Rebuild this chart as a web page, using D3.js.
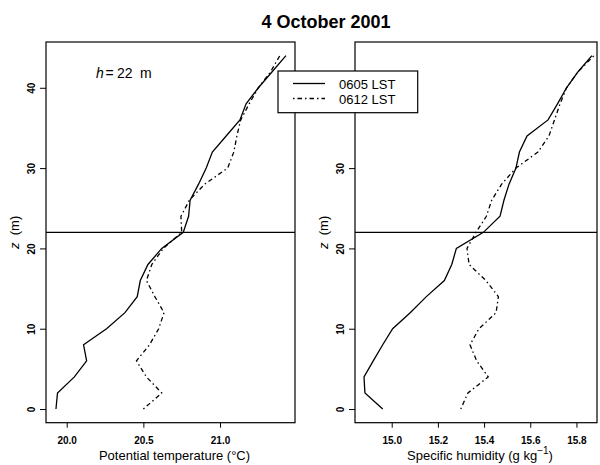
<!DOCTYPE html>
<html>
<head>
<meta charset="utf-8">
<script src="https://cdn.jsdelivr.net/npm/d3@7"></script>
<style>
  html, body { margin: 0; padding: 0; background: #fff; }
  svg { display: block; font-family: "Liberation Sans", Arial, Helvetica, sans-serif; }
</style>
</head>
<body>
<svg id="chart" width="600" height="465"></svg>
<script>
// ---- data ----
const heights = [0, 2, 4, 6, 8, 10, 12, 14, 16, 18, 20, 22, 24, 26, 28, 30, 32, 34, 36, 38, 40, 42, 44];
const theta0605 = [19.93, 19.94, 20.05, 20.13, 20.11, 20.26, 20.38, 20.46, 20.48, 20.53, 20.62, 20.76,
                   20.795, 20.805, 20.86, 20.91, 20.95, 21.04, 21.13, 21.17, 21.25, 21.34, 21.43];
const theta0612 = [20.50, 20.62, 20.52, 20.455, 20.54, 20.60, 20.635, 20.575, 20.52, 20.555, 20.63, 20.75,
                   20.745, 20.80, 20.90, 21.05, 21.09, 21.11, 21.135, 21.19, 21.25, 21.33, 21.39];
const q0605 = [14.961, 14.884, 14.88, 14.92, 14.961, 15.004, 15.08, 15.15, 15.228, 15.26, 15.28, 15.397,
               15.469, 15.486, 15.508, 15.538, 15.553, 15.586, 15.677, 15.718, 15.757, 15.807, 15.867];
const q0612 = [15.299, 15.33, 15.418, 15.368, 15.339, 15.378, 15.452, 15.462, 15.408, 15.335, 15.326, 15.365,
               15.41, 15.433, 15.476, 15.538, 15.633, 15.681, 15.705, 15.729, 15.757, 15.807, 15.876];
const boundaryHeight = 22;
const thetaTicks = [20.0, 20.5, 21.0];
const qTicks = [15.0, 15.2, 15.4, 15.6, 15.8];
const zTicks = [0, 10, 20, 30, 40];
const seriesNames = ["0605 LST", "0612 LST"];
const titleText = "4 October 2001";

// ---- layout ----
const svg = d3.select("#chart");
const plotTop = 42, plotBottom = 422.7;
const y = d3.scaleLinear().domain([-1.7, 45.7]).range([plotBottom, plotTop]);
const dashStyle = "1.5,3,4.5,3";

function panel(x0, x1, xDomain, xTicks, xFmt, s1, s2, xTitleFn) {
  const x = d3.scaleLinear().domain(xDomain).range([x0, x1]);
  const g = svg.append("g");

  // boundary height line
  g.append("line")
    .attr("x1", x0).attr("x2", x1)
    .attr("y1", y(boundaryHeight)).attr("y2", y(boundaryHeight))
    .attr("stroke", "#000").attr("stroke-width", 1.3);

  const line = d3.line().x(d => x(d[0])).y(d => y(d[1]));
  g.append("path")
    .datum(s1.map((v, i) => [v, heights[i]]))
    .attr("d", line).attr("fill", "none")
    .attr("stroke", "#000").attr("stroke-width", 1.3);
  g.append("path")
    .datum(s2.map((v, i) => [v, heights[i]]))
    .attr("d", line).attr("fill", "none")
    .attr("stroke", "#000").attr("stroke-width", 1.3)
    .attr("stroke-dasharray", dashStyle);

  // box
  g.append("rect")
    .attr("x", x0).attr("y", plotTop)
    .attr("width", x1 - x0).attr("height", plotBottom - plotTop)
    .attr("fill", "none").attr("stroke", "#000").attr("stroke-width", 1.2);

  // x axis
  const xa = g.append("g").attr("transform", `translate(0,${plotBottom})`)
    .call(d3.axisBottom(x).tickValues(xTicks).tickFormat(xFmt).tickSize(5).tickPadding(9));
  xa.select(".domain").remove();
  xa.selectAll("line").attr("stroke", "#000").attr("stroke-width", 1);
  xa.selectAll("text").attr("font-size", 10).attr("font-weight", "bold")
    .attr("font-family", "Liberation Sans, Arial, sans-serif").attr("fill", "#000");

  // y axis
  const ya = g.append("g").attr("transform", `translate(${x0},0)`)
    .call(d3.axisLeft(y).tickValues(zTicks).tickFormat(d3.format("d")).tickSize(6));
  ya.select(".domain").remove();
  ya.selectAll("line").attr("stroke", "#000").attr("stroke-width", 1);
  ya.selectAll("text").remove();
  ya.selectAll(".tick").append("text")
    .attr("transform", "translate(-11,0) rotate(-90)")
    .attr("text-anchor", "middle")
    .attr("font-size", 10).attr("font-weight", "bold").attr("fill", "#000")
    .text(d => d3.format("d")(d));

  // y title
  const yt = g.append("text")
    .attr("transform", `translate(${x0 - 27},${(plotTop + plotBottom) / 2}) rotate(-90)`)
    .attr("text-anchor", "middle").attr("font-size", 13).attr("fill", "#000");
  yt.append("tspan").attr("font-style", "italic").text("z");
  yt.append("tspan").text("\u00a0\u00a0(m)");

  // x title
  xTitleFn(g, (x0 + x1) / 2 + 4);
  return x;
}

panel(46, 295, [19.865, 21.489], thetaTicks, d3.format(".1f"), theta0605, theta0612, (g, cx) => {
  g.append("text").attr("x", cx).attr("y", 460).attr("text-anchor", "middle")
    .attr("font-size", 13).attr("fill", "#000").text("Potential temperature (\u00b0C)");
});

panel(355, 597, [14.841, 15.889], qTicks, d3.format(".1f"), q0605, q0612, (g, cx) => {
  const t = g.append("text").attr("x", cx).attr("y", 460).attr("text-anchor", "middle")
    .attr("font-size", 13).attr("fill", "#000");
  t.append("tspan").text("Specific humidity (g kg");
  t.append("tspan").attr("font-size", 10).attr("dy", -6).text("\u22121");
  t.append("tspan").attr("dy", 6).text(")");
});

// h label
const hl = svg.append("text").attr("x", 96).attr("y", 78).attr("font-size", 14).attr("fill", "#000");
hl.append("tspan").attr("font-style", "italic").text("h");
hl.append("tspan").attr("x", 105.5).text("=");
hl.append("tspan").attr("x", 117).text("22");
hl.append("tspan").attr("x", 140).text("m");

// title
svg.append("text").attr("x", 326).attr("y", 28).attr("text-anchor", "middle")
  .attr("font-size", 18).attr("font-weight", "bold").attr("fill", "#000").text(titleText);

// legend
const lg = svg.append("g");
lg.append("rect").attr("x", 278).attr("y", 71).attr("width", 139.7).attr("height", 41.7)
  .attr("fill", "#fff").attr("stroke", "#000").attr("stroke-width", 1.2);
seriesNames.forEach((name, i) => {
  const yy = 83.5 + i * 15;
  lg.append("line").attr("x1", 293).attr("x2", 325).attr("y1", yy).attr("y2", yy)
    .attr("stroke", "#000").attr("stroke-width", 1.3)
    .attr("stroke-dasharray", i === 1 ? dashStyle : null);
  lg.append("text").attr("x", 339).attr("y", yy + 5.5).attr("font-size", 13).attr("fill", "#000").text(name);
});
</script>
</body>
</html>
